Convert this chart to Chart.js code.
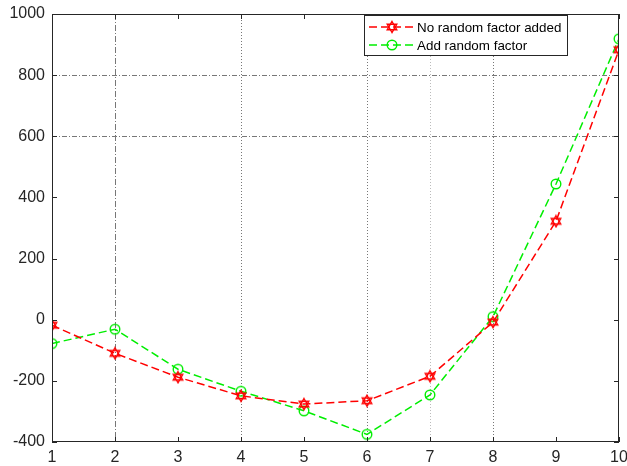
<!DOCTYPE html>
<html>
<head>
<meta charset="utf-8">
<script src="https://cdn.jsdelivr.net/npm/chart.js@4/dist/chart.umd.min.js"></script>
<style>
html,body{margin:0;padding:0;background:#fff;}
canvas{display:block;}
</style>
</head>
<body>
<canvas id="c" width="627" height="466"></canvas>
<script>
const xValues = [1,2,3,4,5,6,7,8,9,10];
const noRandom = [-18,-110,-188,-249,-276,-265,-185,-8,322,883];
const withRandom = [-78,-31,-162,-234,-298,-375,-246,10,444,919];
const seriesNames = ['No random factor added','Add random factor'];
const xGridShown = {2:[6,2,1,2],4:[1,2],6:[1,2],7:[1,2],8:[1,2]};
const yGridShown = {600:[5,2,1,2],800:[5,2,1,2]};

function hexagram(color){
  const c=document.createElement('canvas');c.width=14;c.height=14;
  const g=c.getContext('2d');g.strokeStyle=color;g.lineWidth=1.4;
  const r=5.5,cx=7,cy=7;
  for(const off of [-Math.PI/2, Math.PI/2]){
    g.beginPath();
    for(let k=0;k<3;k++){const a=off+k*2*Math.PI/3;const px=cx+r*Math.cos(a),py=cy+r*Math.sin(a);k?g.lineTo(px,py):g.moveTo(px,py);}
    g.closePath();g.stroke();
  }
  return c;
}
function ring(color){
  const c=document.createElement('canvas');c.width=14;c.height=14;
  const g=c.getContext('2d');g.strokeStyle=color;g.lineWidth=1.4;
  g.beginPath();g.arc(7,7,4.8,0,Math.PI*2);g.stroke();return c;
}
const redMark=hexagram('#ff0000');
const greenMark=ring('#00ee00');

const boxPlugin={
  id:'box',
  afterDatasetsDraw(chart){
    const {ctx,chartArea:a,scales}=chart;
    ctx.save();
    ctx.strokeStyle='#262626';ctx.lineWidth=1;ctx.setLineDash([]);
    ctx.strokeRect(a.left+0.5,a.top+0.5,a.right-a.left-1,a.bottom-a.top-1);
    const L=5;
    ctx.beginPath();
    scales.x.ticks.forEach(t=>{const x=Math.round(scales.x.getPixelForValue(t.value))+0.5;
      ctx.moveTo(x,a.bottom);ctx.lineTo(x,a.bottom-L);ctx.moveTo(x,a.top);ctx.lineTo(x,a.top+L);});
    scales.y.ticks.forEach(t=>{const y=Math.round(scales.y.getPixelForValue(t.value))+0.5;
      ctx.moveTo(a.left,y);ctx.lineTo(a.left+L,y);ctx.moveTo(a.right,y);ctx.lineTo(a.right-L,y);});
    ctx.stroke();
    // legend
    const lx=364.5,ly=15.5,lw=203,lh=40;
    ctx.fillStyle='#fff';ctx.fillRect(lx,ly,lw,lh);
    ctx.strokeStyle='#262626';ctx.strokeRect(lx,ly,lw,lh);
    const rows=[{ds:chart.data.datasets[0],y:27},{ds:chart.data.datasets[1],y:45}];
    ctx.font='13.4px "Liberation Sans", Arial, sans-serif';ctx.textBaseline='middle';ctx.textAlign='left';
    rows.forEach(r=>{
      ctx.strokeStyle=r.ds.borderColor;ctx.lineWidth=1.5;ctx.setLineDash([8,4]);
      ctx.beginPath();ctx.moveTo(369,r.y);ctx.lineTo(414,r.y);ctx.stroke();ctx.setLineDash([]);
      ctx.drawImage(r.ds.pointStyle,392-7,r.y-7);
      ctx.fillStyle='#000';ctx.fillText(r.ds.label,417,r.y+1);
    });
    ctx.restore();
  }
};

new Chart(document.getElementById('c'),{
  type:'line',
  data:{datasets:[
    {label:seriesNames[0],data:xValues.map((x,i)=>({x,y:noRandom[i]})),borderColor:'#ff0000',borderWidth:1.5,borderDash:[8,4],pointStyle:redMark,pointRadius:5,fill:false,tension:0},
    {label:seriesNames[1],data:xValues.map((x,i)=>({x,y:withRandom[i]})),borderColor:'#00ee00',borderWidth:1.5,borderDash:[8,4],pointStyle:greenMark,pointRadius:5,fill:false,tension:0}
  ]},
  options:{
    responsive:false,animation:false,
    layout:{padding:{top:14,right:8,left:0,bottom:0}},
    plugins:{legend:{display:false},tooltip:{enabled:false}},
    scales:{
      x:{type:'linear',min:1,max:10,
        ticks:{stepSize:1,color:'#262626',font:{family:'"Liberation Sans", Arial, sans-serif',size:16},padding:6,maxRotation:0,autoSkip:false,callback:v=>String(v)},
        grid:{drawTicks:false,lineWidth:1,color:c=>xGridShown[c.tick&&c.tick.value]?(c.tick.value===7?'#bbbbbb':'#777777'):'rgba(0,0,0,0)'},
        border:{display:false,dash:c=>xGridShown[c.tick&&c.tick.value]||[]},
        afterFit:s=>{s.height=24;s.paddingLeft=0;s.paddingRight=0;}
      },
      y:{min:-400,max:1000,
        ticks:{stepSize:200,color:'#262626',font:{family:'"Liberation Sans", Arial, sans-serif',size:16},padding:7,callback:v=>String(v)},
        grid:{drawTicks:false,lineWidth:1,color:c=>yGridShown[c.tick&&c.tick.value]?'#777777':'rgba(0,0,0,0)'},
        border:{display:false,dash:c=>yGridShown[c.tick&&c.tick.value]||[]},
        afterFit:s=>{s.width=52;s.paddingTop=0;s.paddingBottom=0;}
      }
    }
  },
  plugins:[boxPlugin]
});
</script>
</body>
</html>
